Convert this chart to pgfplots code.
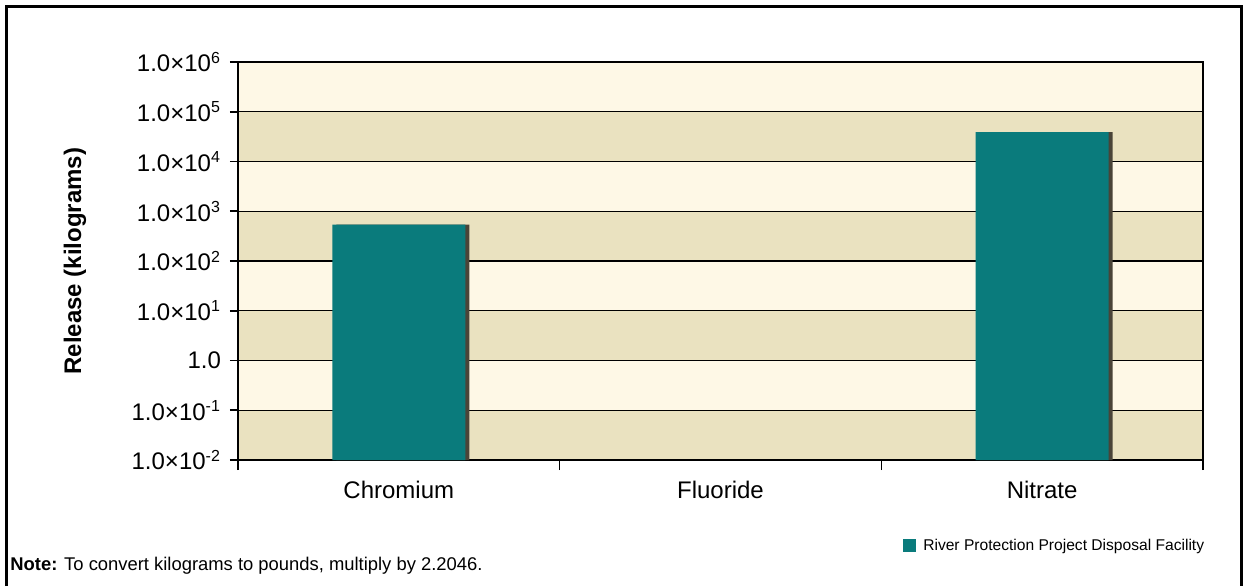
\documentclass[border=0pt]{standalone}
\usepackage{pgfplots}
\pgfplotsset{compat=1.18}
\usepackage{fontspec}
\setmainfont{Liberation Sans}

\definecolor{barteal}{HTML}{0A7B7C}
\definecolor{barshade}{HTML}{4A4438}
\definecolor{bandlight}{HTML}{FEF8E6}
\definecolor{banddark}{HTML}{EAE2C0}

\begin{document}
\begin{tikzpicture}
\begin{axis}[
    at={(0pt,0pt)}, anchor=south west,
    set layers,
    scale only axis,
    width=482.5pt, height=199pt,
    ymode=log, log origin=infty,
    ymin=1e-2, ymax=1e6,
    xmin=-0.5, xmax=2.5,
    axis background/.style={fill=bandlight},
    ytick={1e-2,1e-1,1,1e1,1e2,1e3,1e4,1e5,1e6},
    yticklabels={1.0×10\textsuperscript{-2},1.0×10\textsuperscript{-1},1.0,
      1.0×10\textsuperscript{1},1.0×10\textsuperscript{2},1.0×10\textsuperscript{3},
      1.0×10\textsuperscript{4},1.0×10\textsuperscript{5},1.0×10\textsuperscript{6}},
    yminorticks=false,
    ymajorgrids, grid style={black, line width=0.6pt},
    xtick={0,1,2}, xticklabels={Chromium,Fluoride,Nitrate},
    minor xtick={-0.5,0.5,1.5,2.5},
    major x tick style={draw=none},
    tick align=outside, tick pos=left,
    major tick length=4pt, minor tick length=5pt,
    tick style={black, line width=0.8pt},
    axis line style={black, line width=1pt},
    ticklabel style={font=\fontsize{12}{14}\selectfont},
    yticklabel style={xshift=-1pt},
    xticklabel style={yshift=-3pt},
    bar width=66.5pt,
    legend style={at={(0.689,-0.216)}, anchor=west, draw=none, fill=none,
      inner sep=0pt, font=\fontsize{7.8}{9}\selectfont},
    legend image code/.code={\fill[barteal] (0pt,-3.25pt) rectangle (6.5pt,3.25pt); \path (8pt,0pt);},
]
% darker background bands
\addplot[fill=banddark, draw=none, forget plot, on layer=axis background]
  coordinates {(-0.5,1e4) (2.5,1e4) (2.5,1e5) (-0.5,1e5) (-0.5,1e4)};
\addplot[fill=banddark, draw=none, forget plot, on layer=axis background]
  coordinates {(-0.5,1e2) (2.5,1e2) (2.5,1e3) (-0.5,1e3) (-0.5,1e2)};
\addplot[fill=banddark, draw=none, forget plot, on layer=axis background]
  coordinates {(-0.5,1) (2.5,1) (2.5,1e1) (-0.5,1e1) (-0.5,1)};
\addplot[fill=banddark, draw=none, forget plot, on layer=axis background]
  coordinates {(-0.5,1e-2) (2.5,1e-2) (2.5,1e-1) (-0.5,1e-1) (-0.5,1e-2)};
% dark edge on the right of each bar
\addplot[ybar, fill=barshade, draw=none, bar shift=2pt, forget plot] coordinates {(0,540) (2,39000)};
\addplot[ybar, fill=barteal, draw=none] coordinates {(0,540) (2,39000)};
\addlegendentry{River Protection Project Disposal Facility}
\end{axis}
\node[rotate=90, font=\bfseries\fontsize{12}{14}\selectfont] at (-81.5pt,99.5pt) {Release (kilograms)};
\node[anchor=west, inner sep=0pt, font=\fontsize{9.2}{11}\selectfont] at (-114pt,-53pt) {\textbf{Note:} To convert kilograms to pounds, multiply by 2.2046.};
\draw[line width=1.5pt] (-115.5pt,-63pt) -- (-115.5pt,227pt) -- (501.5pt,227pt) -- (501.5pt,-63pt);
\pgfresetboundingbox
\useasboundingbox (-119pt,-63pt) rectangle (504.5pt,230pt);
\end{tikzpicture}
\end{document}
